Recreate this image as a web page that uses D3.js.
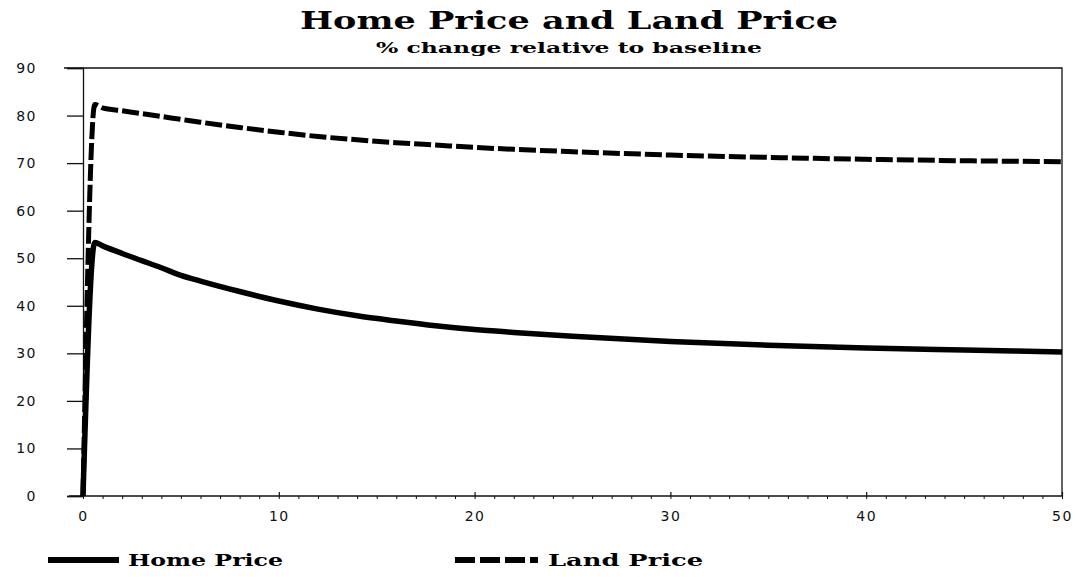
<!DOCTYPE html>
<html>
<head>
<meta charset="utf-8">
<script src="https://cdn.jsdelivr.net/npm/d3@7"></script>
<style>
  html, body { margin: 0; padding: 0; background: #fff; }
</style>
</head>
<body>
<div id="chart"></div>
<script>
const years = [0, 0.6, 1, 2, 3, 4, 5, 6, 8, 10, 12, 14, 16, 18, 20, 22, 25, 30, 35, 40, 45, 50]
const homePrice = [0, 53.3, 52.6, 51, 49.5, 48, 46.4, 45.2, 43, 41, 39.3, 37.9, 36.8, 35.8, 35, 34.4, 33.6, 32.5, 31.7, 31.1, 30.7, 30.3]
const landPrice = [0, 82.3, 81.6, 81, 80.4, 79.8, 79.2, 78.6, 77.5, 76.5, 75.6, 74.9, 74.3, 73.8, 73.3, 72.9, 72.4, 71.7, 71.2, 70.8, 70.5, 70.3]
const xTicks = [0, 10, 20, 30, 40, 50]
const yTicks = [0, 10, 20, 30, 40, 50, 60, 70, 80, 90]

const W = 1087
const H = 577
const plotLeft = 83
const plotRight = 1062
const plotTop = 68
const plotBottom = 496

const LABEL_FONT = 'DejaVu Sans'
const SERIF = 'DejaVu Serif'

const x = d3.scaleLinear().domain([0, 50]).range([plotLeft, plotRight])
const y = d3.scaleLinear().domain([0, 90]).range([plotBottom, plotTop])

const svg = d3.select('#chart').append('svg').attr('width', W).attr('height', H)

svg.append('rect').attr('width', W).attr('height', H).attr('fill', '#fff')

// titles
svg
  .append('text')
  .attr('x', 569)
  .attr('y', 29)
  .attr('text-anchor', 'middle')
  .attr('font-family', SERIF)
  .attr('font-weight', 'bold')
  .attr('font-size', 24)
  .attr('textLength', 538)
  .attr('lengthAdjust', 'spacingAndGlyphs')
  .text('Home Price and Land Price')

svg
  .append('text')
  .attr('x', 569)
  .attr('y', 53)
  .attr('text-anchor', 'middle')
  .attr('font-family', SERIF)
  .attr('font-weight', 'bold')
  .attr('font-size', 15)
  .attr('textLength', 386)
  .attr('lengthAdjust', 'spacingAndGlyphs')
  .text('% change relative to baseline')

// frame: top + right edges
svg
  .append('path')
  .attr('d', `M${plotLeft - 19},${plotTop}H${plotRight}V${plotBottom}`)
  .attr('fill', 'none')
  .attr('stroke', '#111')
  .attr('stroke-width', 1.3)

// y axis
const yAxis = svg
  .append('g')
  .attr('transform', `translate(${plotLeft},0)`)
  .call(d3.axisLeft(y).tickValues(yTicks).tickSize(16).tickPadding(30))

yAxis.select('.domain').attr('stroke', '#111').attr('stroke-width', 1.3)
yAxis.selectAll('.tick line').attr('stroke', '#111').attr('stroke-width', 1.3)
yAxis
  .selectAll('.tick text')
  .attr('font-family', LABEL_FONT)
  .attr('font-size', 14)
  .attr('letter-spacing', 1.5)
  .attr('fill', '#111')

// x axis: minor ticks every unit, labels every 10
const xMinor = svg
  .append('g')
  .attr('transform', `translate(0,${plotBottom})`)
  .call(d3.axisBottom(x).ticks(50).tickSize(3).tickFormat(''))
xMinor.select('.domain').remove()
xMinor.selectAll('.tick line').attr('stroke', '#111').attr('stroke-width', 1)

const xAxis = svg
  .append('g')
  .attr('transform', `translate(0,${plotBottom})`)
  .call(d3.axisBottom(x).tickValues(xTicks).tickSize(-4).tickPadding(15))

xAxis.select('.domain').remove()
xAxis.selectAll('.tick line').attr('stroke', '#111').attr('stroke-width', 1.2)
xAxis
  .selectAll('.tick text')
  .attr('font-family', LABEL_FONT)
  .attr('font-size', 14)
  .attr('letter-spacing', 1.5)
  .attr('fill', '#111')

svg
  .append('line')
  .attr('x1', plotLeft - 14)
  .attr('x2', plotRight)
  .attr('y1', plotBottom)
  .attr('y2', plotBottom)
  .attr('stroke', '#111')
  .attr('stroke-width', 1.3)

// series
const line = (vals) =>
  d3
    .line()
    .x((d, i) => x(years[i]))
    .y((d) => y(d))
    .curve(d3.curveMonotoneX)(vals)

svg
  .append('path')
  .attr('d', line(landPrice))
  .attr('fill', 'none')
  .attr('stroke', '#000')
  .attr('stroke-width', 5)
  .attr('stroke-dasharray', '17,4')

svg
  .append('path')
  .attr('d', line(homePrice))
  .attr('fill', 'none')
  .attr('stroke', '#000')
  .attr('stroke-width', 5.5)
  .attr('stroke-linejoin', 'round')

// legend
const legend = [
  { name: 'Home Price', x1: 48, x2: 119, tx: 128, dash: null },
  { name: 'Land Price', x1: 455, x2: 538, tx: 548, dash: '20,5' },
]

legend.forEach((d) => {
  svg
    .append('line')
    .attr('x1', d.x1)
    .attr('x2', d.x2)
    .attr('y1', 560)
    .attr('y2', 560)
    .attr('stroke', '#000')
    .attr('stroke-width', 6)
    .attr('stroke-dasharray', d.dash)

  svg
    .append('text')
    .attr('x', d.tx)
    .attr('y', 566)
    .attr('font-family', SERIF)
    .attr('font-weight', 'bold')
    .attr('font-size', 16)
    .attr('textLength', 155)
    .attr('lengthAdjust', 'spacingAndGlyphs')
    .text(d.name)
})
</script>
</body>
</html>
